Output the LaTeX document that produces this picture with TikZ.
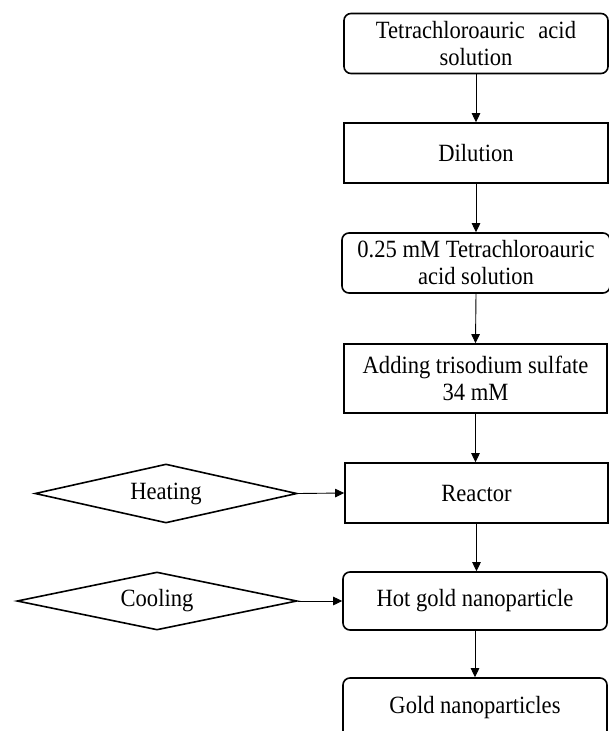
\documentclass[tikz,border=0pt]{standalone}
\usepackage{fontspec}
\setmainfont{Liberation Serif}[FakeStretch=0.91]
\usetikzlibrary{shapes.geometric,arrows.meta}
\begin{document}
\begin{tikzpicture}[x=1pt,y=-1pt,
  every node/.style={font=\fontsize{24.8}{27}\selectfont, align=center, inner sep=0pt},
  procbox/.style={draw, line width=1.6pt, rectangle},
  roundbox/.style={draw, line width=1.6pt, rectangle, rounded corners=7pt},
  decision/.style={draw, line width=1.6pt, diamond, aspect=4.5},
  flow/.style={draw, line width=0.9pt, -{Triangle[length=9pt,width=8.5pt]}}
]
\useasboundingbox (0,0) rectangle (609,731);
\clip (0,0) rectangle (609,731);
\node[roundbox, minimum width=264pt, minimum height=60pt] (acid) at (476,43.5) {Tetrachloroauric\hspace{0.55em}acid\\solution};
\node[procbox, minimum width=264pt, minimum height=60pt] (dil) at (476,153) {Dilution};
\node[roundbox, minimum width=268pt, minimum height=60pt] (acid2) at (476,263) {0.25 mM Tetrachloroauric\\acid solution};
\node[procbox, minimum width=263pt, minimum height=69pt] (add) at (475.5,378.5) {Adding trisodium sulfate\\34 mM};
\node[procbox, minimum width=263pt, minimum height=60pt] (reac) at (476.5,493) {Reactor};
\node[roundbox, minimum width=264pt, minimum height=58pt] (hot) at (475,601) {Hot gold nanoparticle};
\node[roundbox, minimum width=264pt, minimum height=60pt] (gold) at (475,708) {Gold nanoparticles};
\node[decision, minimum width=262pt, minimum height=59pt] (heat) at (166,493.5) {Heating};
\node[decision, minimum width=280pt, minimum height=58pt] (cool) at (157,601) {Cooling};
\draw[flow] (acid.south) -- (dil.north);
\draw[flow] (dil.south) -- (acid2.north);
\draw[flow] (acid2.south) -- (add.north);
\draw[flow] (add.south) -- (add.south |- reac.north);
\draw[flow] (reac.south) -- (reac.south |- hot.north);
\draw[flow] (hot.south) -- (gold.north);
\draw[flow] (heat.east) -- (reac.west);
\draw[flow] (cool.east) -- (hot.west);
\end{tikzpicture}
\end{document}
